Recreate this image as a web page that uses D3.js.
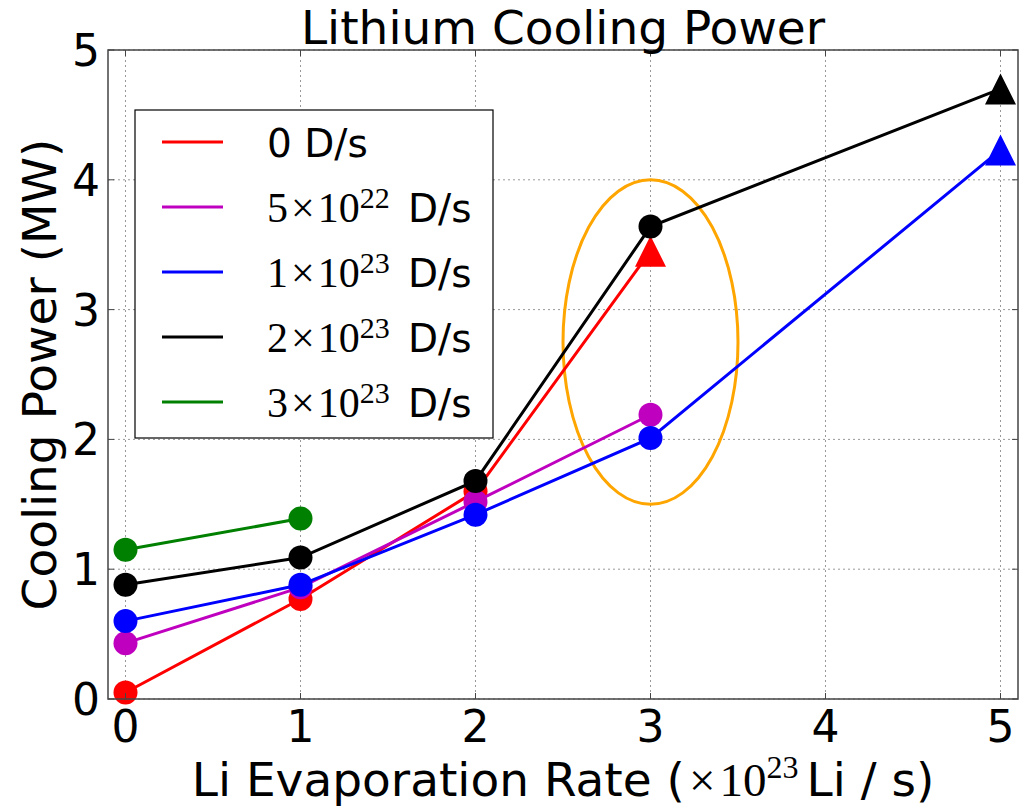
<!DOCTYPE html>
<html>
<head>
<meta charset="utf-8">
<script src="https://cdn.jsdelivr.net/npm/d3@7"></script>
<style>
  body { margin: 0; background: #fff; }
  text { font-family: "DejaVu Sans", sans-serif; fill: #000; }
  .math { font-family: "Liberation Serif", "DejaVu Serif", serif; }
</style>
</head>
<body>
<div id="chart"></div>
<script>
// values (x in 1e23 Li/s, y in MW)
const seriesNames = ["0 D/s", "5e22", "1e23", "2e23", "3e23"];
const seriesColors = ["#ff0000", "#bf00bf", "#0000ff", "#000000", "#008000"];

const redX = [0, 1, 2, 3];
const redY = [0.05, 0.77, 1.60, 3.45];
const redShape = ["o", "o", "o", "^"];

const magentaX = [0, 1, 2, 3];
const magentaY = [0.43, 0.86, 1.52, 2.19];
const magentaShape = ["o", "o", "o", "o"];

const blueX = [0, 1, 2, 3, 5];
const blueY = [0.60, 0.88, 1.42, 2.01, 4.23];
const blueShape = ["o", "o", "o", "o", "^"];

const blackX = [0, 1, 2, 3, 5];
const blackY = [0.88, 1.09, 1.68, 3.64, 4.70];
const blackShape = ["o", "o", "o", "o", "^"];

const greenX = [0, 1];
const greenY = [1.15, 1.39];
const greenShape = ["o", "o"];

const xTicks = [0, 1, 2, 3, 4, 5];
const yTicks = [0, 1, 2, 3, 4, 5];

// legend labels: [mantissa, exponent] ; null -> plain text
const legendMath = [null, ["5", "22"], ["1", "23"], ["2", "23"], ["3", "23"]];

// highlighted region (data units)
const ellipseCenter = [3, 2.75];
const ellipseSize = [1, 2.5];

class Chart {
  constructor() {
    this.width = 1023;
    this.height = 808;
    this.margin = {top: 50, right: 5, bottom: 109, left: 108};
    this.w = this.width - this.margin.left - this.margin.right;
    this.h = this.height - this.margin.top - this.margin.bottom;

    this.svg = d3.select("#chart").append("svg")
      .attr("width", this.width)
      .attr("height", this.height);

    this.x = d3.scaleLinear().domain([-0.1, 5.1]).range([0, this.w]);
    this.y = d3.scaleLinear().domain([0, 5]).range([this.h, 0]);

    this.series = [
      {x: redX, y: redY, shape: redShape},
      {x: magentaX, y: magentaY, shape: magentaShape},
      {x: blueX, y: blueY, shape: blueShape},
      {x: blackX, y: blackY, shape: blackShape},
      {x: greenX, y: greenY, shape: greenShape}
    ].map((s, i) => ({
      name: seriesNames[i],
      color: seriesColors[i],
      points: s.x.map((v, j) => ({x: v, y: s.y[j], shape: s.shape[j]}))
    }));

    this.g = this.svg.append("g")
      .attr("transform", `translate(${this.margin.left},${this.margin.top})`);
    this.draw();
  }

  draw() {
    const x = this.x, y = this.y, w = this.w, h = this.h;

    // dotted grid
    this.g.append("g").selectAll("line").data(xTicks).enter().append("line")
      .attr("x1", d => x(d)).attr("x2", d => x(d))
      .attr("y1", 0).attr("y2", h)
      .style("stroke", "#999").style("stroke-width", 1).style("stroke-dasharray", "2,3");
    this.g.append("g").selectAll("line").data(yTicks).enter().append("line")
      .attr("x1", 0).attr("x2", w)
      .attr("y1", d => y(d)).attr("y2", d => y(d))
      .style("stroke", "#999").style("stroke-width", 1).style("stroke-dasharray", "2,3");

    // orange ellipse (behind the lines)
    this.g.append("ellipse")
      .attr("cx", x(ellipseCenter[0]))
      .attr("cy", y(ellipseCenter[1]))
      .attr("rx", x(ellipseCenter[0] + ellipseSize[0] / 2) - x(ellipseCenter[0]))
      .attr("ry", y(ellipseCenter[1]) - y(ellipseCenter[1] + ellipseSize[1] / 2))
      .style("fill", "none").style("stroke", "#ffa500").style("stroke-width", 3);

    const line = d3.line().x(d => x(d.x)).y(d => y(d.y));
    const tri = s => `M0,${-s}L${-s},${s}L${s},${s}Z`;

    this.series.forEach(s => {
      const sg = this.g.append("g");
      sg.append("path")
        .datum(s.points)
        .attr("d", line)
        .style("fill", "none").style("stroke", s.color).style("stroke-width", 3);
      sg.selectAll("circle").data(s.points.filter(d => d.shape == "o")).enter()
        .append("circle")
        .attr("cx", d => x(d.x)).attr("cy", d => y(d.y))
        .attr("r", 12)
        .style("fill", s.color);
      sg.selectAll(".tri").data(s.points.filter(d => d.shape == "^")).enter()
        .append("path")
        .attr("class", "tri")
        .attr("d", tri(15.5))
        .attr("transform", d => `translate(${x(d.x)},${y(d.y)})`)
        .style("fill", s.color);
    });

    // inward ticks on all four sides
    const tk = this.g.append("g").style("stroke", "#444").style("stroke-width", 1);
    xTicks.forEach(t => {
      tk.append("line").attr("x1", x(t)).attr("x2", x(t)).attr("y1", h).attr("y2", h - 6);
      tk.append("line").attr("x1", x(t)).attr("x2", x(t)).attr("y1", 0).attr("y2", 6);
    });
    yTicks.forEach(t => {
      tk.append("line").attr("x1", 0).attr("x2", 6).attr("y1", y(t)).attr("y2", y(t));
      tk.append("line").attr("x1", w).attr("x2", w - 6).attr("y1", y(t)).attr("y2", y(t));
    });

    // frame
    this.g.append("rect")
      .attr("width", w).attr("height", h)
      .style("fill", "none").style("stroke", "#444").style("stroke-width", 1.5);

    // tick labels
    this.g.append("g").selectAll("text").data(xTicks).enter().append("text")
      .attr("x", d => x(d)).attr("y", h + 43)
      .attr("text-anchor", "middle")
      .style("font-size", "44px")
      .text(d => d);
    this.g.append("g").selectAll("text").data(yTicks).enter().append("text")
      .attr("x", -8).attr("y", d => y(d) + 16)
      .attr("text-anchor", "end")
      .style("font-size", "44px")
      .text(d => d);

    // title
    this.svg.append("text")
      .attr("x", this.margin.left + w / 2).attr("y", 44)
      .attr("text-anchor", "middle")
      .style("font-size", "47px")
      .text("Lithium Cooling Power");

    // y label
    this.svg.append("text")
      .attr("transform", `translate(56,${this.margin.top + h / 2}) rotate(-90)`)
      .attr("text-anchor", "middle")
      .style("font-size", "47px")
      .text("Cooling Power (MW)");

    // x label
    const xl = this.svg.append("text")
      .attr("x", this.margin.left + w / 2).attr("y", 796)
      .attr("text-anchor", "middle")
      .style("font-size", "47px");
    xl.append("tspan").text("Li Evaporation Rate (");
    xl.append("tspan").attr("class", "math").attr("dx", 4).text("\u00d7");
    xl.append("tspan").attr("class", "math").attr("dx", 4).text("10");
    xl.append("tspan").attr("class", "math").attr("dy", -18).style("font-size", "32px").text("23");
    xl.append("tspan").attr("dy", 18).attr("dx", 8).text("Li / s)");

    this.legend();
  }

  legend() {
    const lg = this.svg.append("g").attr("transform", "translate(135,110)");
    lg.append("rect")
      .attr("width", 358).attr("height", 328)
      .style("fill", "#fff").style("stroke", "#000").style("stroke-width", 1.2);
    this.series.forEach((s, i) => {
      const yy = 32 + i * 65;
      lg.append("line")
        .attr("x1", 27).attr("x2", 88).attr("y1", yy).attr("y2", yy)
        .style("stroke", s.color).style("stroke-width", 3);
      const t = lg.append("text")
        .attr("x", 132).attr("y", yy + 15)
        .style("font-size", "39px");
      const m = legendMath[i];
      if (!m) {
        t.text(s.name);
      } else {
        t.append("tspan").attr("class", "math").style("font-size", "42px").text(m[0]);
        t.append("tspan").attr("class", "math").attr("dx", 3).style("font-size", "42px").text("\u00d7");
        t.append("tspan").attr("class", "math").attr("dx", 3).style("font-size", "42px").text("10");
        t.append("tspan").attr("class", "math").attr("dy", -14).style("font-size", "30px").text(m[1]);
        t.append("tspan").attr("dy", 14).attr("dx", 6).text(" D/s");
      }
    });
  }
}

new Chart();
</script>
</body>
</html>
